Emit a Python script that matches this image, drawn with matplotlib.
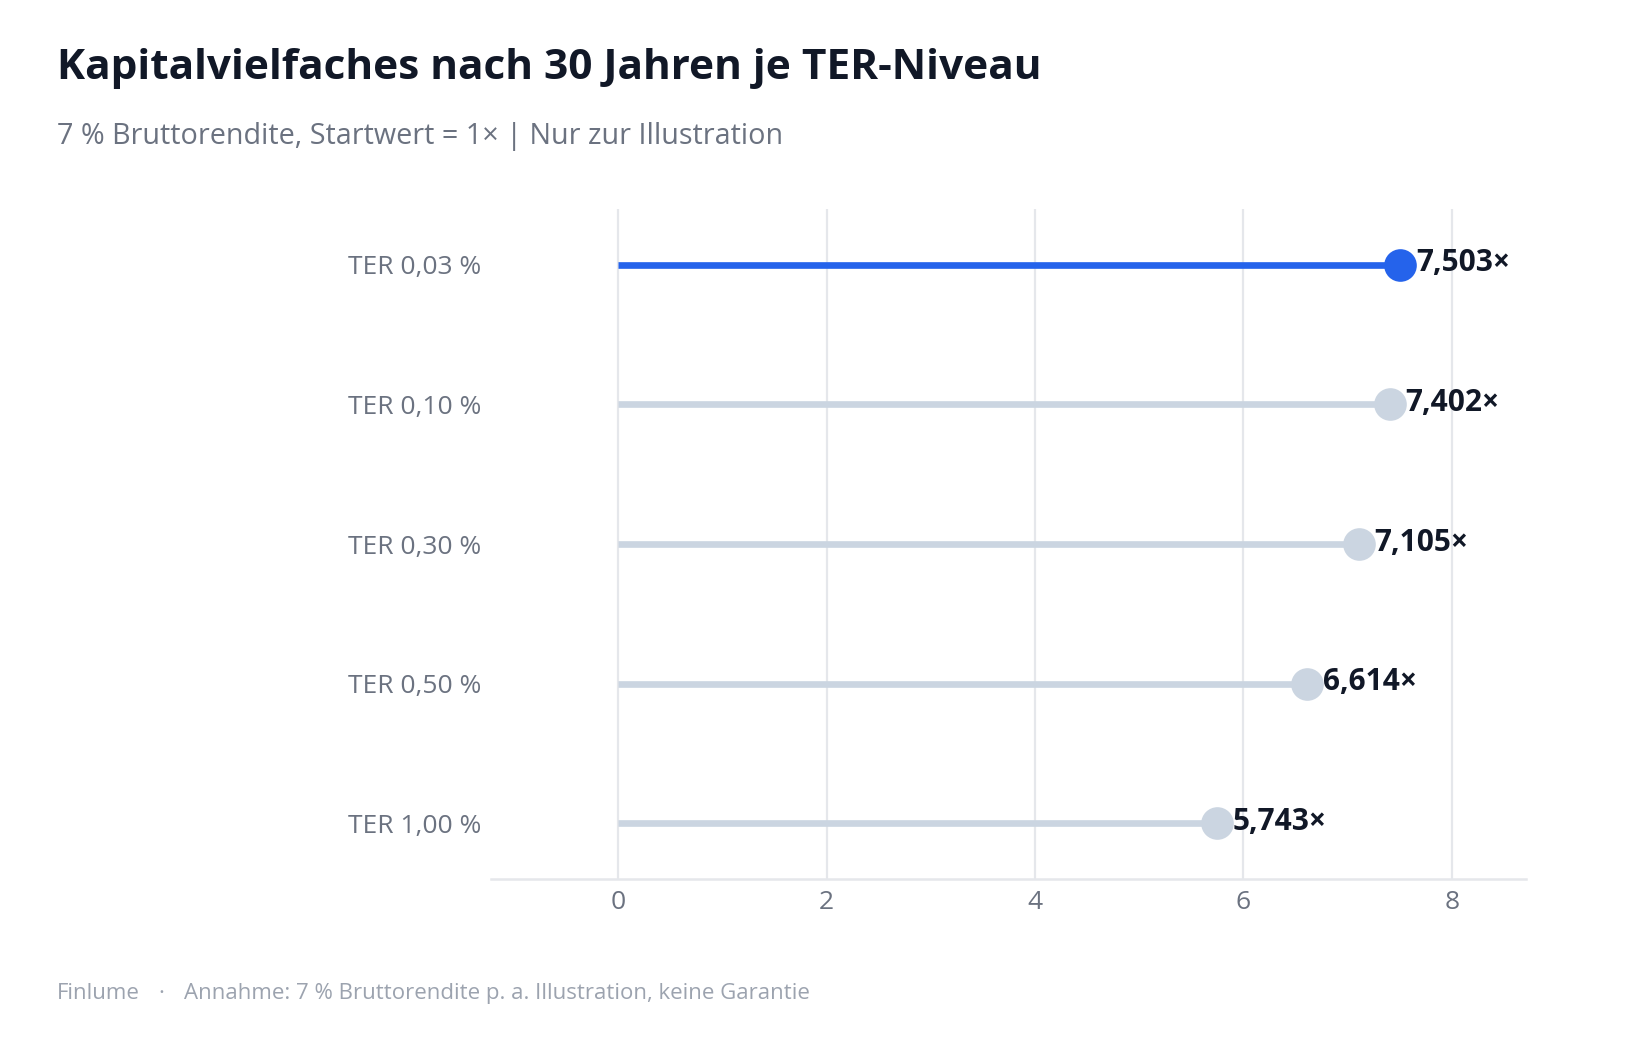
import matplotlib
matplotlib.use("Agg")
import matplotlib.pyplot as plt

plt.rcParams['font.family'] = ['Open Sans', 'Noto Sans', 'DejaVu Sans']

# data
categories = ["TER 0,03 %", "TER 0,10 %", "TER 0,30 %", "TER 0,50 %", "TER 1,00 %"]
multiples = [7.503, 7.402, 7.105, 6.614, 5.743]
highlight = "TER 0,03 %"
xticks = [0, 2, 4, 6, 8]

BLUE = "#2563eb"
GREY = "#cbd5e1"
DARK = "#111827"
MUTED = "#6b7280"
FAINT = "#9ca3af"

fig = plt.figure(figsize=(16.39, 10.40), dpi=100)
ax = fig.add_axes([0.2996, 0.1548, 0.6314, 0.6442])

for i, (cat, val) in enumerate(zip(categories, multiples)):
    col = BLUE if cat == highlight else GREY
    ax.plot([0, val], [i, i], color=col, lw=4.8, solid_capstyle="butt", zorder=3)
    ax.plot(val, i, "o", ms=23.5, color=col, mec="none", zorder=4)
    ax.annotate(f"{val:.3f}".replace(".", ",") + "×", (val, i),
                xytext=(11.5, 1), textcoords="offset points",
                ha="left", va="center", fontsize=21.5, fontweight="bold",
                color=DARK, zorder=5)

ax.set_xlim(-1.22, 8.71)
ax.set_ylim(4.4, -0.4)
ax.set_yticks(range(len(categories)))
ax.set_yticklabels(categories)
ax.set_xticks(xticks)
ax.tick_params(axis="both", length=0, labelsize=19, labelcolor=MUTED)
ax.tick_params(axis="y", pad=7)
ax.tick_params(axis="x", pad=8)
ax.grid(axis="x", color="#e5e7eb", lw=1.6, zorder=0)
for s in ["top", "right", "left"]:
    ax.spines[s].set_visible(False)
ax.spines["bottom"].set_color("#e5e7eb")
ax.spines["bottom"].set_linewidth(1.8)

fig.text(0.035, 0.9345, "Kapitalvielfaches nach 30 Jahren je TER-Niveau",
         fontsize=30.5, fontweight="bold", color=DARK, va="center", ha="left")
fig.text(0.035, 0.869, "7 % Bruttorendite, Startwert = 1× | Nur zur Illustration",
         fontsize=20.7, color=MUTED, va="center", ha="left")

# footer: brand, separator, note
fig.text(0.035, 0.045, "Finlume", fontsize=16, color=FAINT, va="center", ha="left")
fig.text(0.0968, 0.045, "·", fontsize=16, color=FAINT, va="center", ha="left")
fig.text(0.1123, 0.045, "Annahme: 7 % Bruttorendite p. a. Illustration, keine Garantie",
         fontsize=16, color=FAINT, va="center", ha="left")

fig.savefig("out.png", dpi=100, facecolor="white")
